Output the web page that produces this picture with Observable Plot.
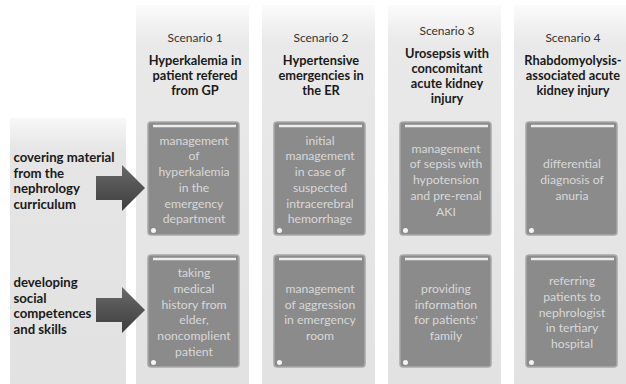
<!DOCTYPE html>
<html><head><meta charset="utf-8">
<script src="https://cdn.jsdelivr.net/npm/d3@7"></script>
<script src="https://cdn.jsdelivr.net/npm/@observablehq/plot@0.6"></script>
<style>body{margin:0;background:#fff}</style>
</head><body><div id="chart"></div>
<script>
// ---- data ----
const scenarioLabels = ["Scenario 1", "Scenario 2", "Scenario 3", "Scenario 4"];
const scenarioTitles = [
  "Hyperkalemia in\npatient refered\nfrom GP",
  "Hypertensive\nemergencies in\nthe ER",
  "Urosepsis with\nconcomitant\nacute kidney\ninjury",
  "Rhabdomyolysis-\nassociated acute\nkidney injury"
];
const rowLabels = [
  "covering material\nfrom the\nnephrology\ncurriculum",
  "developing\nsocial\ncompetences\nand skills"
];
const curriculumTopics = [
  "management\nof\nhyperkalemia\nin the\nemergency\ndepartment",
  "initial\nmanagement\nin case of\nsuspected\nintracerebral\nhemorrhage",
  "management\nof sepsis with\nhypotension\nand pre-renal\nAKI",
  "differential\ndiagnosis of\nanuria"
];
const socialTopics = [
  "taking\nmedical\nhistory from\nelder,\nnoncomplient\npatient",
  "management\nof aggression\nin emergency\nroom",
  "providing\ninformation\nfor patients'\nfamily",
  "referring\npatients to\nnephrologist\nin tertiary\nhospital"
];

// ---- layout ----
const W = 626, H = 384;
const band = d3.scaleBand().domain(["", ...scenarioLabels]).range([10, 627]).paddingInner(0.103).paddingOuter(0);
const bw = band.bandwidth();
const panelTop = 5, leftPanelTop = 118;
const rowsY = [{top: 122, bottom: 235, label: 180, arrow: 188}, {top: 255, bottom: 367, label: 305, arrow: 310}];
const titleCenter = 75, titleStep = 15;

const panels = scenarioLabels.map(s => ({x1: band(s), x2: band(s) + bw, y1: panelTop, y2: H + 2}));
const leftPanel = [{x1: band(""), x2: band("") + bw + 3, y1: leftPanelTop, y2: H + 2}];

const boxes = [];
[curriculumTopics, socialTopics].forEach((topics, r) => {
  topics.forEach((t, i) => {
    const s = scenarioLabels[i];
    boxes.push({x1: band(s) + 12, x2: band(s) + bw - 10, y1: rowsY[r].top, y2: rowsY[r].bottom, text: t});
  });
});
boxes.forEach(b => { b.cx = (b.x1 + b.x2) / 2; b.cy = (b.y1 + b.y2) / 2; b.hx1 = b.x1 + 5; b.hx2 = b.x2 - 3; b.hy = b.y1 + 3.5; b.dx = b.x1 + 5; b.dy = b.y2 - 5; });

const headers = scenarioLabels.map((s, i) => {
  const n = scenarioTitles[i].split("\n").length;
  return {x: band(s) + bw / 2 + 2, label: s, title: scenarioTitles[i],
          labelY: titleCenter - (n - 1) * titleStep / 2 - 22, titleY: titleCenter};
});

const labels = rowLabels.map((t, r) => ({x: band("") + 3, y: rowsY[r].label, text: t}));

const arrowPts = [];
rowsY.forEach((row, r) => {
  const c = row.arrow;
  arrowPts.push({r, x: 96, y1: c - 12, y2: c + 12});
  arrowPts.push({r, x: 122, y1: c - 12, y2: c + 12});
  arrowPts.push({r, x: 122, y1: c - 23, y2: c + 23});
  arrowPts.push({r, x: 145, y1: c, y2: c});
});

const defs = () => {
  const d = document.createElementNS("http://www.w3.org/2000/svg", "defs");
  d.innerHTML = `
    <linearGradient id="pg" x1="0" y1="0" x2="0" y2="1">
      <stop offset="0" stop-color="#fbfbfb"/>
      <stop offset="0.1" stop-color="#e9e9e9"/>
      <stop offset="1" stop-color="#e2e2e2"/>
    </linearGradient>
    <linearGradient id="lg" x1="0" y1="0" x2="0" y2="1">
      <stop offset="0" stop-color="#f8f8f8"/>
      <stop offset="0.12" stop-color="#e5e5e5"/>
      <stop offset="1" stop-color="#e2e2e2"/>
    </linearGradient>
    <linearGradient id="ag" x1="0" y1="0" x2="0" y2="1">
      <stop offset="0" stop-color="#6a6a6a"/>
      <stop offset="0.45" stop-color="#555"/>
      <stop offset="1" stop-color="#3e3e3e"/>
    </linearGradient>`;
  return d;
};

const chart = Plot.plot({
  width: W, height: H,
  margin: 0,
  x: {type: "linear", domain: [0, W], range: [0, W], axis: null},
  y: {type: "linear", domain: [0, H], range: [0, H], axis: null},
  style: {fontFamily: "Lato, sans-serif", background: "#fff"},
  marks: [
    defs,
    Plot.rect(panels, {x1: "x1", x2: "x2", y1: "y1", y2: "y2", fill: "url(#pg)"}),
    Plot.rect(leftPanel, {x1: "x1", x2: "x2", y1: "y1", y2: "y2", fill: "url(#lg)"}),
    Plot.rect(boxes, {x1: "x1", x2: "x2", y1: "y1", y2: "y2", fill: "#8b8b8b", stroke: "#a9a9a9", strokeWidth: 1.5, rx: 3}),
    Plot.ruleY(boxes, {x1: "hx1", x2: "hx2", y: "hy", stroke: "#ececec", strokeWidth: 2.5}),
    Plot.dot(boxes, {x: "dx", y: "dy", r: 2.5, fill: "#f4f4f4", stroke: null}),
    Plot.text(boxes, {x: "cx", y: "cy", text: "text", fill: "#d8d8d8", fontSize: 12.2, lineHeight: 1.29, lineAnchor: "middle"}),
    Plot.area(arrowPts, {x1: "x", y1: "y1", y2: "y2", z: "r", fill: "url(#ag)", curve: "linear"}),
    Plot.text(headers, {x: "x", y: "labelY", text: "label", fill: "#333", fontSize: 12, lineAnchor: "middle"}),
    Plot.text(headers, {x: "x", y: "titleY", text: "title", fill: "#1a1a1a", fontSize: 12.8, fontWeight: "bold", lineHeight: 1.17, lineAnchor: "middle"}),
    Plot.text(labels, {x: "x", y: "y", text: "text", fill: "#1a1a1a", fontSize: 13.2, fontWeight: "bold", lineHeight: 1.18, lineAnchor: "middle", textAnchor: "start"})
  ]
});
document.getElementById("chart").appendChild(chart);
</script>
</body></html>
